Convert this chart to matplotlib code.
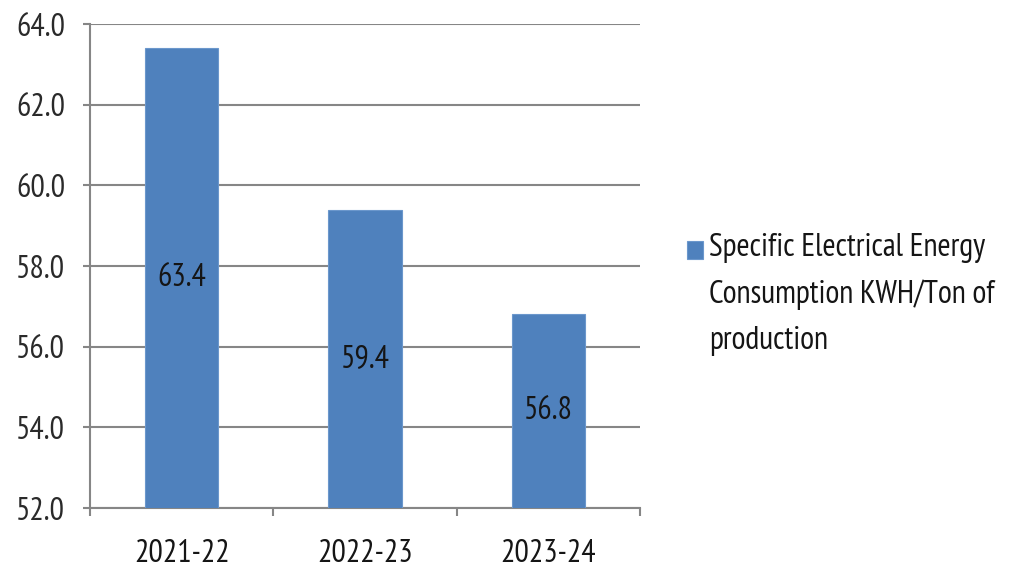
import matplotlib
matplotlib.use("Agg")
import matplotlib.pyplot as plt
import numpy as np
from matplotlib.patches import Rectangle
from matplotlib.legend_handler import HandlerPatch
from matplotlib.ticker import FormatStrFormatter, FixedLocator

plt.rcParams['font.family'] = ['PT Sans Narrow', 'DejaVu Sans']

years = ["2021-22", "2022-23", "2023-24"]
consumption = [63.4, 59.4, 56.8]
series_name = "Specific Electrical Energy\nConsumption KWH/Ton of\nproduction"

bar_color = "#4F81BD"
grid_color = "#868686"
text_color = "#151515"
fs = 23
line_gap = 1.71


def top_line_patch(legend, orig_handle, xdescent, ydescent, width, height, fontsize):
    # put the square next to the first line of the label, not its middle
    shift = 1.39 * fontsize
    return Rectangle((-xdescent, -ydescent + shift), width, height)


fig = plt.figure(figsize=(10.1, 5.7), dpi=100)
ax = fig.add_axes([90 / 1010, 1 - 508 / 570, 550 / 1010, 484 / 570])

x = np.arange(len(years))
bars = ax.bar(x, consumption, width=0.4, color=bar_color,
              edgecolor="#6B97CC", linewidth=0.8, zorder=3)

for xi, v in zip(x, consumption):
    ax.text(xi, (52 + v) / 2, f"{v:.1f}", ha="center", va="center",
            fontsize=fs, color=text_color, zorder=4)

ax.set_ylim(52, 64)
ax.set_xlim(-0.5, len(years) - 0.5)
ax.set_yticks(np.arange(52, 64.1, 2))
ax.yaxis.set_major_formatter(FormatStrFormatter("%.1f"))
ax.yaxis.grid(True, color=grid_color, linewidth=1.5, zorder=0)

ax.set_xticks(x)
ax.set_xticklabels(years)
ax.xaxis.set_minor_locator(FixedLocator(np.arange(-0.5, len(years), 1)))
ax.tick_params(axis="x", which="major", length=0, pad=22, labelsize=fs, labelcolor=text_color)
ax.tick_params(axis="x", which="minor", length=6, width=1.5, color=grid_color, direction="out")
ax.tick_params(axis="y", length=5, width=1.5, color=grid_color, direction="out",
               pad=13, labelsize=fs, labelcolor="#2a2a2a")

for side in ["top", "right"]:
    ax.spines[side].set_visible(False)
for side in ["left", "bottom"]:
    ax.spines[side].set_color(grid_color)
    ax.spines[side].set_linewidth(1.5)

handle = bars.patches[0]
leg = fig.legend(handles=[handle], labels=[series_name], loc="upper left",
                 bbox_to_anchor=(658 / 1010, 1 - 204 / 570), frameon=False,
                 fontsize=fs, handlelength=0.5, handleheight=0.5, handletextpad=0.2,
                 labelcolor=text_color,
                 handler_map={handle: HandlerPatch(patch_func=top_line_patch)})
for t in leg.get_texts():
    t.set_linespacing(line_gap)

fig.savefig("out.png", dpi=100)
